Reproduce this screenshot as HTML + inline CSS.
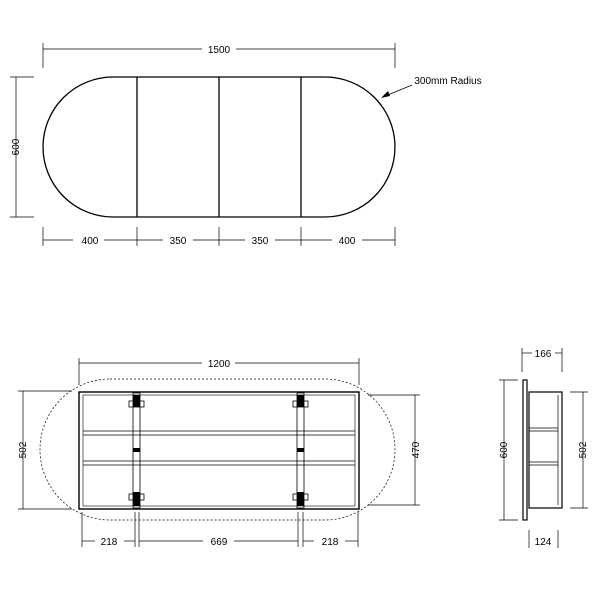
<!DOCTYPE html>
<html><head><style>body{margin:0;background:#fff}svg{display:block}</style></head><body>
<svg width="600" height="600" viewBox="0 0 600 600" xmlns="http://www.w3.org/2000/svg" font-family="Liberation Sans, sans-serif" font-size="10" fill="none" stroke="#000">
<!-- top view -->
<path d="M113 77 H325 A70 70 0 0 1 325 217 H113 A70 70 0 0 1 113 77 Z" stroke-width="1.3"/>
<line x1="137" y1="77" x2="137" y2="217" stroke-width="1.3"/>
<line x1="219" y1="77" x2="219" y2="217" stroke-width="1.3"/>
<line x1="301" y1="77" x2="301" y2="217" stroke-width="1.3"/>
<g stroke-width="0.7">
<line x1="43" y1="49" x2="202" y2="49"/><line x1="236" y1="49" x2="395" y2="49"/>
<line x1="43" y1="43" x2="43" y2="68"/><line x1="395" y1="43" x2="395" y2="68"/>
<line x1="16" y1="77" x2="16" y2="217"/><line x1="10" y1="77" x2="34" y2="77"/><line x1="10" y1="217" x2="34" y2="217"/>
<line x1="43" y1="240" x2="73" y2="240"/><line x1="104" y1="240" x2="137" y2="240"/>
<line x1="137" y1="240" x2="163" y2="240"/><line x1="193" y1="240" x2="219" y2="240"/>
<line x1="219" y1="240" x2="245" y2="240"/><line x1="275" y1="240" x2="301" y2="240"/>
<line x1="301" y1="240" x2="332" y2="240"/><line x1="362" y1="240" x2="395" y2="240"/>
<line x1="43" y1="227" x2="43" y2="246"/><line x1="137" y1="227" x2="137" y2="246"/><line x1="219" y1="227" x2="219" y2="246"/><line x1="301" y1="227" x2="301" y2="246"/><line x1="395" y1="227" x2="395" y2="246"/>
<line x1="412" y1="85" x2="383" y2="97"/>
</g>
<polygon points="381,98 388,91 390,96" fill="#000" stroke="none"/>
<g fill="#000" stroke="none" text-anchor="middle">
<text x="219" y="53">1500</text>
<text x="90" y="244">400</text><text x="178" y="244">350</text><text x="260" y="244">350</text><text x="347" y="244">400</text>
<text x="448" y="84">300mm Radius</text>
<text transform="translate(19 147) rotate(-90)">600</text>
</g>
<!-- front view -->
<path d="M110 379 H325 A70 70.5 0 0 1 325 520 H110 A70 70.5 0 0 1 110 379 Z" stroke-width="0.7" stroke-dasharray="2 2"/>
<rect x="79" y="392" width="280" height="117" stroke-width="1.4"/>
<rect x="83" y="395" width="272" height="111" stroke-width="0.6"/>
<g stroke-width="0.8">
<line x1="83" y1="431" x2="355" y2="431"/><line x1="83" y1="435" x2="355" y2="435"/>
<line x1="83" y1="461" x2="355" y2="461"/><line x1="83" y1="465" x2="355" y2="465"/>
<rect x="133" y="393" width="7" height="115"/><rect x="297" y="393" width="7" height="115"/>
<rect x="129" y="401" width="15" height="6"/><rect x="293" y="401" width="15" height="6"/>
<rect x="129" y="494" width="15" height="6"/><rect x="293" y="494" width="15" height="6"/>
</g>
<g fill="#000" stroke="none">
<rect x="133" y="395" width="7" height="12"/><rect x="297" y="395" width="7" height="12"/>
<rect x="133" y="492" width="7" height="14"/><rect x="297" y="492" width="7" height="14"/>
<rect x="133" y="448" width="7" height="4"/><rect x="297" y="448" width="7" height="4"/>
</g>
<g stroke-width="0.7">
<line x1="79" y1="363" x2="202" y2="363"/><line x1="235" y1="363" x2="359" y2="363"/>
<line x1="79" y1="358" x2="79" y2="385"/><line x1="359" y1="358" x2="359" y2="385"/>
<line x1="23" y1="391" x2="23" y2="509"/><line x1="18" y1="391" x2="72" y2="391"/><line x1="18" y1="509" x2="72" y2="509"/>
<line x1="415" y1="395" x2="415" y2="505"/><line x1="368" y1="395" x2="420" y2="395"/><line x1="368" y1="505" x2="420" y2="505"/>
<line x1="82" y1="541" x2="95" y2="541"/><line x1="124" y1="541" x2="135" y2="541"/>
<line x1="139" y1="541" x2="203" y2="541"/><line x1="234" y1="541" x2="298" y2="541"/>
<line x1="303" y1="541" x2="314" y2="541"/><line x1="345" y1="541" x2="358" y2="541"/>
<line x1="82" y1="512" x2="82" y2="547"/><line x1="135" y1="512" x2="135" y2="547"/><line x1="139" y1="512" x2="139" y2="547"/><line x1="298" y1="512" x2="298" y2="547"/><line x1="303" y1="512" x2="303" y2="547"/><line x1="358" y1="512" x2="358" y2="547"/>
</g>
<g fill="#000" stroke="none" text-anchor="middle">
<text x="219" y="367">1200</text>
<text x="109" y="545">218</text><text x="219" y="545">669</text><text x="330" y="545">218</text>
<text transform="translate(26 450) rotate(-90)">502</text>
<text transform="translate(419 450) rotate(-90)">470</text>
</g>
<!-- side view -->
<rect x="523" y="380" width="4" height="140" stroke-width="1.2"/>
<rect x="529" y="392" width="33" height="116" stroke-width="1.2"/>
<g stroke-width="0.7">
<line x1="529" y1="428" x2="558" y2="428"/><line x1="529" y1="431" x2="558" y2="431"/>
<line x1="529" y1="462" x2="558" y2="462"/><line x1="529" y1="465" x2="558" y2="465"/>
<line x1="558" y1="395" x2="558" y2="505"/>
<line x1="522" y1="353" x2="532" y2="353"/><line x1="555" y1="353" x2="562" y2="353"/>
<line x1="522" y1="348" x2="522" y2="372"/><line x1="562" y1="348" x2="562" y2="372"/>
<line x1="504" y1="380" x2="504" y2="520"/><line x1="499" y1="380" x2="518" y2="380"/><line x1="499" y1="520" x2="518" y2="520"/>
<line x1="583" y1="392" x2="583" y2="508"/><line x1="570" y1="392" x2="588" y2="392"/><line x1="570" y1="508" x2="588" y2="508"/>
<line x1="529" y1="530" x2="529" y2="548"/><line x1="558" y1="530" x2="558" y2="548"/>
</g>
<g fill="#000" stroke="none" text-anchor="middle">
<text x="543" y="357">166</text>
<text x="543" y="545">124</text>
<text transform="translate(507 450) rotate(-90)">600</text>
<text transform="translate(586 450) rotate(-90)">502</text>
</g>
</svg>
</body></html>
